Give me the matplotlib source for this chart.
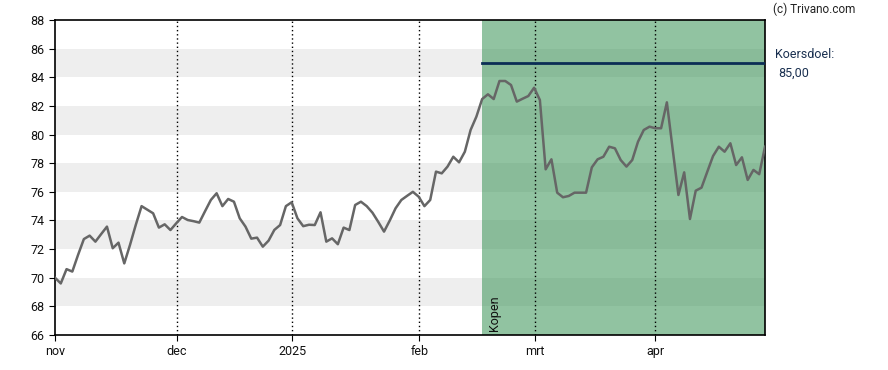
import matplotlib
matplotlib.use("Agg")
import matplotlib.pyplot as plt
import numpy as np

plt.rcParams['font.family'] = ['Roboto', 'DejaVu Sans']

# koers per handelsdag, vanaf 1 nov 2024
koers = [70.0, 69.6, 70.6, 70.43, 71.6, 72.7, 72.94, 72.52, 73.05, 73.57,
         72.06, 72.45, 71.0, 72.3, 73.7, 75.0, 74.75, 74.5, 73.5, 73.73,
         73.33, 73.8, 74.24, 74.03, 73.95, 73.85, 74.65, 75.43, 75.9, 75.0,
         75.5, 75.31, 74.15, 73.57, 72.73, 72.8, 72.17, 72.59, 73.34, 73.68,
         75.0, 75.27, 74.15, 73.6, 73.7, 73.68, 74.57, 72.52, 72.75, 72.34,
         73.5, 73.33, 75.08, 75.31, 75.0, 74.54, 73.9, 73.22, 74.0, 74.85,
         75.43, 75.72, 76.0, 75.66, 75.0, 75.43, 77.41, 77.29, 77.76, 78.45,
         78.06, 78.8, 80.32, 81.25, 82.48, 82.81, 82.48, 83.74, 83.74, 83.46,
         82.3, 82.5, 82.69, 83.27, 82.41, 77.57, 78.27, 75.94, 75.62, 75.71,
         75.94, 75.94, 75.94, 77.71, 78.27, 78.45, 79.15, 79.04, 78.22, 77.76,
         78.22, 79.5, 80.32, 80.55, 80.44, 80.44, 82.25, 79.0, 75.78, 77.36,
         74.1, 76.08, 76.29, 77.4, 78.5, 79.15, 78.8, 79.39, 77.87, 78.41,
         76.83, 77.53, 77.23, 79.15]
maand_pos = [0, 21.1, 41.1, 63.1, 83.2, 104]
maand_lbl = ['nov', 'dec', '2025', 'feb', 'mrt', 'apr']
kopen_start = 74
koersdoel = 85.0

x = np.arange(len(koers))

fig = plt.figure(figsize=(8.88, 3.70), dpi=100)
ax = fig.add_axes([55/888, 35/370, 710/888, 315/370])

for lo in range(68, 88, 4):
    ax.axhspan(lo, lo + 2, color='#eeeeee', lw=0, zorder=0)
ax.axvspan(kopen_start, len(koers) - 1, color='#258945', alpha=0.5, lw=0, zorder=1)

for p in maand_pos[1:]:
    ax.axvline(p, color='black', ls=(0, (1, 2)), lw=1, zorder=2)

ax.plot([kopen_start, len(koers) - 1], [koersdoel, koersdoel], color='#0b2d55', lw=2, zorder=3)
ax.plot(x, koers, color='#666666', lw=1.8, zorder=4)

ax.set_xlim(0, len(koers) - 1)
ax.set_ylim(66, 88)
ax.set_yticks(range(66, 89, 2))
ax.set_xticks(maand_pos)
ax.set_xticklabels(maand_lbl)
ax.tick_params(labelsize=9, length=4, color='black', labelcolor='#111111')
for s in ax.spines.values():
    s.set_color('black')
    s.set_linewidth(1.2)

ax.text(kopen_start + 1.0, 66.3, 'Kopen', rotation=90, fontsize=9,
        ha='left', va='bottom', color='#111111', zorder=5)

fig.text(773/888, 1 - 9/370, '(c) Trivano.com', fontsize=8.5, ha='left', va='center', color='#222222')
fig.text(775/888, 1 - 55/370, 'Koersdoel:', fontsize=9, ha='left', va='center', color='#1a3050')
fig.text(778/888, 1 - 73/370, '85,00', fontsize=9, ha='left', va='center', color='#1a3050')

fig.savefig('out.png', dpi=100)
